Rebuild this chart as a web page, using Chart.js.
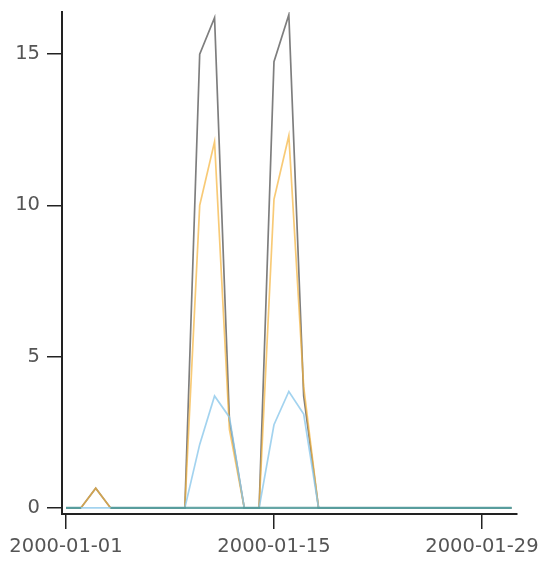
<!DOCTYPE html>
<html>
<head>
<meta charset="utf-8">
<script src="https://cdn.jsdelivr.net/npm/chart.js@4/dist/chart.umd.min.js"></script>
<style>
  html, body { margin: 0; padding: 0; background: #fff; }
  #wrap { width: 544px; height: 563px; }
</style>
</head>
<body>
<div id="wrap"><canvas id="chart" width="544" height="563"></canvas></div>
<script>
const dates = [
  '2000-01-01', '2000-01-02', '2000-01-03', '2000-01-04', '2000-01-05', '2000-01-06',
  '2000-01-07', '2000-01-08', '2000-01-09', '2000-01-10', '2000-01-11', '2000-01-12',
  '2000-01-13', '2000-01-14', '2000-01-15', '2000-01-16', '2000-01-17', '2000-01-18',
  '2000-01-19', '2000-01-20', '2000-01-21', '2000-01-22', '2000-01-23', '2000-01-24',
  '2000-01-25', '2000-01-26', '2000-01-27', '2000-01-28', '2000-01-29', '2000-01-30',
  '2000-01-31'
];

const totalValues = [0, 0, 0.65, 0, 0, 0, 0, 0, 0, 15.0, 16.2, 2.9, 0, 0, 14.75, 16.3,
  3.7, 0, 0, 0, 0, 0, 0, 0, 0, 0, 0, 0, 0, 0, 0];
const orangeValues = [0, 0, 0.65, 0, 0, 0, 0, 0, 0, 10.0, 12.1, 2.6, 0, 0, 10.2, 12.3,
  4.0, 0, 0, 0, 0, 0, 0, 0, 0, 0, 0, 0, 0, 0, 0];
const blueValues = [0, 0, 0, 0, 0, 0, 0, 0, 0, 2.1, 3.7, 3.0, 0, 0, 2.75, 3.85,
  3.1, 0, 0, 0, 0, 0, 0, 0, 0, 0, 0, 0, 0, 0, 0];
// no reading on 01-03, so the line breaks there
const greenValues = [0, 0, null, 0, 0, 0, 0, 0, 0, 0, 0, 0, 0, 0, 0, 0,
  0, 0, 0, 0, 0, 0, 0, 0, 0, 0, 0, 0, 0, 0, 0];

const xTickLabels = ['2000-01-01', '2000-01-15', '2000-01-29'];
const yTicks = [0, 5, 10, 15];

const font = { family: 'DejaVu Sans', size: 19.5 };
const axisColor = '#222';

function toPoints(values) {
  return values.map((v, i) => ({ x: i, y: v }));
}

// lower order is drawn on top
function series(values, color, width, order) {
  return {
    data: toPoints(values),
    borderColor: color,
    borderWidth: width,
    pointRadius: 0,
    tension: 0,
    fill: false,
    spanGaps: false,
    order: order
  };
}

function noEdgePadding(axis) {
  axis.paddingLeft = 0;
  axis.paddingRight = 0;
  axis.paddingTop = 0;
  axis.paddingBottom = 0;
}

new Chart(document.getElementById('chart'), {
  type: 'line',
  data: {
    datasets: [
      series(totalValues, 'rgba(40, 40, 40, 0.6)', 1.7, 4),
      series(orangeValues, 'rgba(245, 180, 60, 0.7)', 1.7, 3),
      series(blueValues, 'rgba(140, 200, 235, 0.8)', 1.7, 2),
      series(greenValues, 'rgba(75, 150, 150, 0.85)', 2.2, 1)
    ]
  },
  options: {
    responsive: false,
    animation: false,
    layout: { padding: { top: 12, right: 27, left: 0, bottom: 0 } },
    plugins: { legend: { display: false }, tooltip: { enabled: false } },
    scales: {
      x: {
        type: 'linear',
        min: -0.27,
        max: 30.36,
        afterBuildTicks: axis => {
          axis.ticks = xTickLabels.map(d => ({ value: dates.indexOf(d) }));
        },
        afterFit: axis => {
          axis.height = 49;
          noEdgePadding(axis);
        },
        ticks: {
          font: font,
          color: '#555',
          padding: 6,
          maxRotation: 0,
          autoSkip: false,
          callback: v => dates[v]
        },
        grid: {
          drawOnChartArea: false,
          tickLength: 15,
          color: axisColor,
          lineWidth: 1.5
        },
        border: { display: true, color: axisColor, width: 2 }
      },
      y: {
        min: -0.2,
        max: 16.39,
        afterBuildTicks: axis => {
          axis.ticks = yTicks.map(v => ({ value: v }));
        },
        afterFit: axis => {
          axis.width = 62;
          noEdgePadding(axis);
        },
        ticks: {
          font: font,
          color: '#555',
          padding: 7
        },
        grid: {
          drawOnChartArea: false,
          tickLength: 15,
          color: axisColor,
          lineWidth: 1.5
        },
        border: { display: true, color: axisColor, width: 2 }
      }
    }
  }
});
</script>
</body>
</html>
